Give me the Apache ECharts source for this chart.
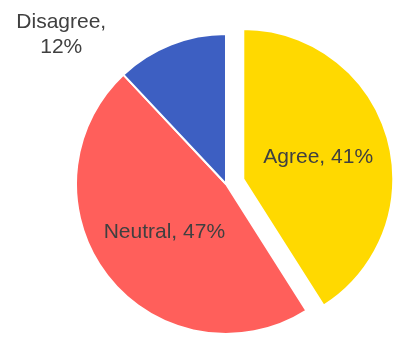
<!DOCTYPE html>
<html>
<head>
<meta charset="utf-8">
<script src="https://cdn.jsdelivr.net/npm/echarts@6/dist/echarts.min.js"></script>
<style>
  html, body { margin: 0; padding: 0; background: #ffffff; }
  #chart { width: 393px; height: 338px; }
</style>
</head>
<body>
<div id="chart"></div>
<script>
// Survey responses (percent of respondents)
const categories = ['Agree', 'Neutral', 'Disagree'];
const shares = [41, 47, 12];
const sliceColors = ['#FFD900', '#FF5F5B', '#3D5FC2'];

const chart = echarts.init(document.getElementById('chart'), null, { renderer: 'canvas' });

const data = categories.map((name, i) => ({
  name: name,
  value: shares[i],
  selected: name === 'Agree',
  itemStyle: { color: sliceColors[i] },
  label: name === 'Disagree'
    ? { position: 'outside', formatter: '{b},\n{c}%', lineHeight: 25 }
    : { position: 'inner', formatter: '{b}, {c}%' }
}));

chart.setOption({
  animation: false,
  series: [{
    type: 'pie',
    center: [226, 184],
    radius: 150,
    startAngle: 90,
    clockwise: true,
    selectedMode: 'single',
    selectedOffset: 18,
    avoidLabelOverlap: false,
    itemStyle: { borderColor: '#ffffff', borderWidth: 2 },
    emphasis: { disabled: true },
    label: {
      color: '#404040',
      fontFamily: 'Liberation Sans, Arial, sans-serif',
      fontSize: 21
    },
    labelLine: { show: false },
    labelLayout: function (params) {
      // pull the small slice's label up-left and centre its two lines
      if (params.dataIndex === 2) {
        return { dx: -69, dy: 4, align: 'center' };
      }
      return {};
    },
    data: data
  }]
});
</script>
</body>
</html>
